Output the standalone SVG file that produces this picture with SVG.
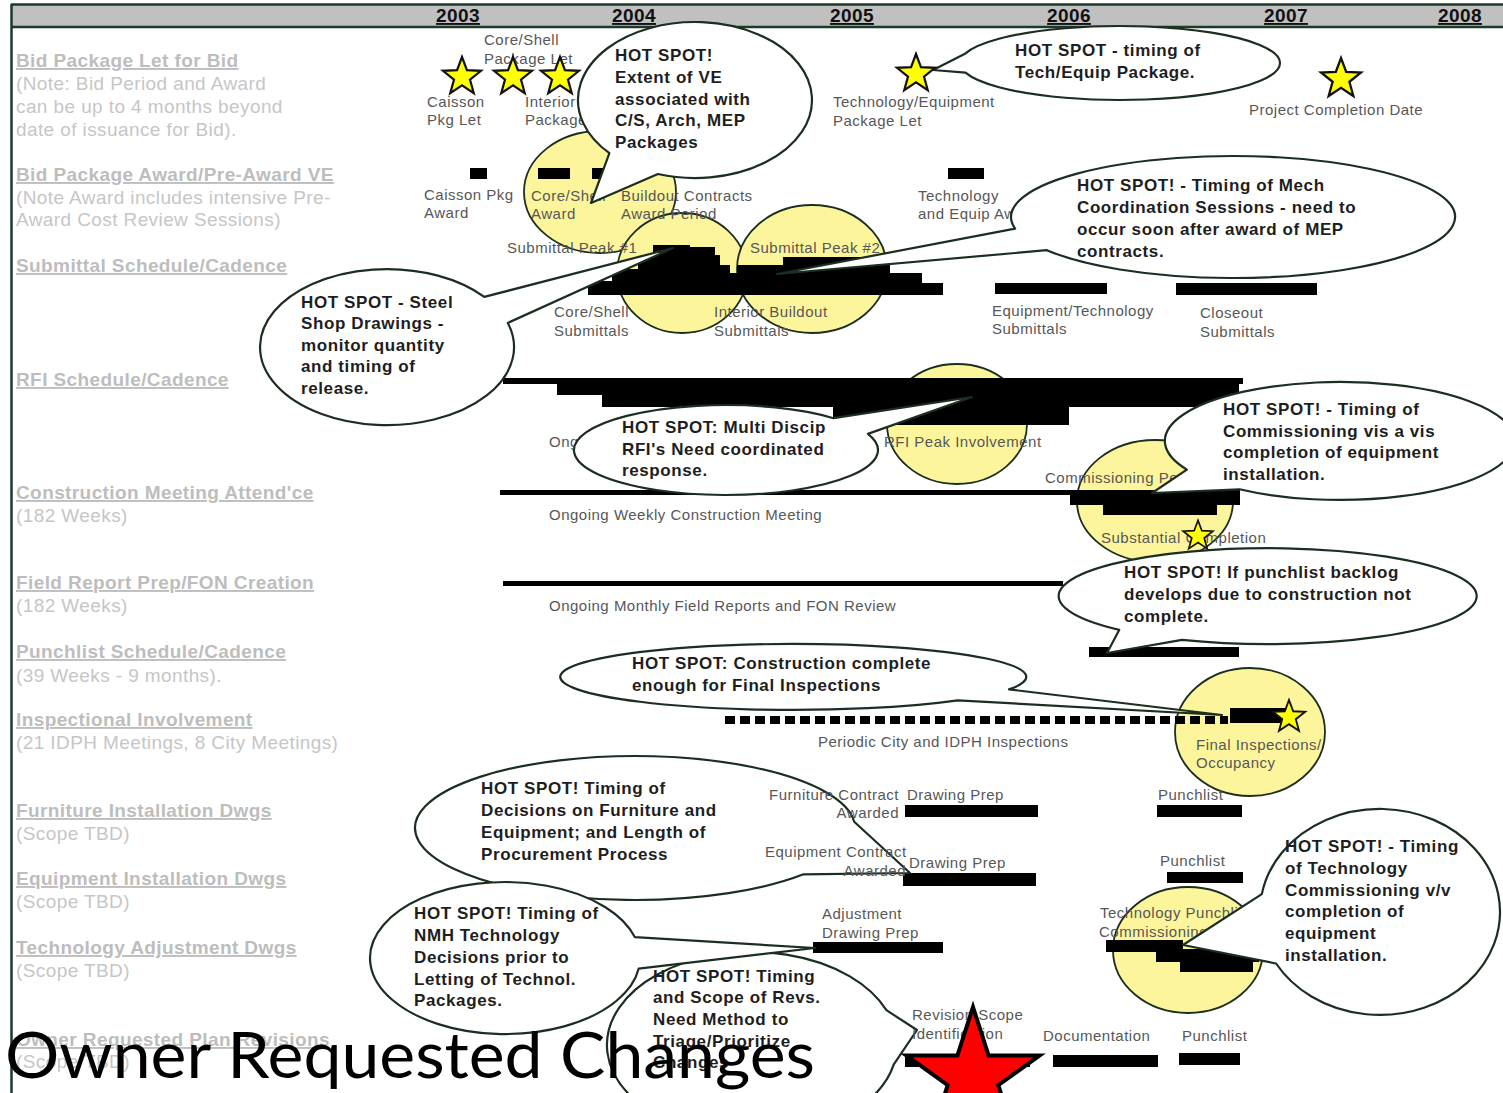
<svg xmlns="http://www.w3.org/2000/svg" xmlns:xlink="http://www.w3.org/1999/xlink" width="1503" height="1093" viewBox="0 0 1503 1093">
<style>
.yr{font:bold 19px "Liberation Sans",Arial,sans-serif;letter-spacing:0.4px;fill:#111;text-anchor:middle;text-decoration:underline}
.lt{font:bold 19px "Liberation Sans",Arial,sans-serif;letter-spacing:0.4px;fill:#bdbdbd;text-decoration:underline}
.ls{font:19px "Liberation Sans",Arial,sans-serif;letter-spacing:0.4px;fill:#c6c6c6}
.sm{font:15px "Liberation Sans",Arial,sans-serif;letter-spacing:0.5px;fill:#575757}
.smr{font:15px "Liberation Sans",Arial,sans-serif;letter-spacing:0.5px;fill:#575757;text-anchor:end}
.ht{font:bold 17px "Liberation Sans",Arial,sans-serif;letter-spacing:0.6px;fill:#1e1e1e}
.co{fill:#fff;stroke:#1b2e1f;stroke-width:2.2;stroke-linejoin:round}
.yc{fill:#fcf59c;stroke:#1b2e1f;stroke-width:1.8}
.bar{fill:#000}
.ys{fill:#ffff00;stroke:#111;stroke-width:2.2;vector-effect:non-scaling-stroke}
.rs{fill:#ff0000;stroke:#000;stroke-width:4;stroke-linejoin:miter}
.big{font:63px Lato,"Open Sans",sans-serif;fill:#000}
</style>
<defs>
<polygon id="star" points="0,-20 4.94,-6.8 19.02,-6.18 7.99,2.6 11.76,16.18 0,8.4 -11.76,16.18 -7.99,2.6 -19.02,-6.18 -4.94,-6.8"/>
</defs>
<rect width="1503" height="1093" fill="#fff"/>
<g id="header">
<rect x="11" y="4" width="1500" height="23" fill="#c0c0c0"/>
<line x1="11" y1="4.5" x2="1503" y2="4.5" stroke="#1b3a2a" stroke-width="2.5"/>
<line x1="11" y1="27" x2="1503" y2="27" stroke="#1b3a2a" stroke-width="2.5"/>
<line x1="11.5" y1="4" x2="11.5" y2="1093" stroke="#1b3a2a" stroke-width="2.5"/>
<text class="yr" x="458" y="22">2003</text>
<text class="yr" x="634" y="22">2004</text>
<text class="yr" x="852" y="22">2005</text>
<text class="yr" x="1069" y="22">2006</text>
<text class="yr" x="1286" y="22">2007</text>
<text class="yr" x="1460" y="22">2008</text>
</g>
<g id="row-labels">
<text class="lt" x="16" y="67">Bid Package Let for Bid</text>
<text class="ls" x="16" y="90">(Note: Bid Period and Award</text>
<text class="ls" x="16" y="113">can be up to 4 months beyond</text>
<text class="ls" x="16" y="136">date of issuance for Bid).</text>
<text class="lt" x="16" y="181">Bid Package Award/Pre-Award VE</text>
<text class="ls" x="16" y="204">(Note Award includes intensive Pre-</text>
<text class="ls" x="16" y="226">Award Cost Review Sessions)</text>
<text class="lt" x="16" y="272">Submittal Schedule/Cadence</text>
<text class="lt" x="16" y="386">RFI Schedule/Cadence</text>
<text class="lt" x="16" y="499">Construction Meeting Attend'ce</text>
<text class="ls" x="16" y="522">(182 Weeks)</text>
<text class="lt" x="16" y="589">Field Report Prep/FON Creation</text>
<text class="ls" x="16" y="612">(182 Weeks)</text>
<text class="lt" x="16" y="658">Punchlist Schedule/Cadence</text>
<text class="ls" x="16" y="682">(39 Weeks - 9 months).</text>
<text class="lt" x="16" y="726">Inspectional Involvement</text>
<text class="ls" x="16" y="749">(21 IDPH Meetings, 8 City Meetings)</text>
<text class="lt" x="16" y="817">Furniture Installation Dwgs</text>
<text class="ls" x="16" y="840">(Scope TBD)</text>
<text class="lt" x="16" y="885">Equipment Installation Dwgs</text>
<text class="ls" x="16" y="908">(Scope TBD)</text>
<text class="lt" x="16" y="954">Technology Adjustment Dwgs</text>
<text class="ls" x="16" y="977">(Scope TBD)</text>
<text class="lt" x="16" y="1046">Owner Requested Plan Revisions</text>
<text class="ls" x="16" y="1068">(Scope TBD)</text>
</g>
<g id="highlights">
<ellipse class="yc" cx="600" cy="192" rx="76" ry="61"/>
<ellipse class="yc" cx="682" cy="273" rx="65" ry="60"/>
<ellipse class="yc" cx="812" cy="269" rx="75" ry="64"/>
<ellipse class="yc" cx="957" cy="424" rx="70" ry="60"/>
<ellipse class="yc" cx="1155" cy="501" rx="78" ry="61"/>
<ellipse class="yc" cx="1250" cy="732" rx="75" ry="64"/>
<ellipse class="yc" cx="1188" cy="950" rx="75" ry="63"/>
</g>
<g id="bars">
<rect class="bar" x="470" y="168" width="17" height="11"/>
<rect class="bar" x="538" y="168" width="32" height="11"/>
<rect class="bar" x="592" y="168" width="30" height="11"/>
<rect class="bar" x="948" y="168" width="36" height="11"/>
<polygon class="bar" points="588,295 588,281 612,281 612,269 638,269 638,256 653,256 653,245 690,245 690,247 715,247 715,255 720,255 720,265 730,265 730,273 737,273 737,265 783,265 783,257 890,257 890,273 922,273 922,283 943,283 943,295"/>
<rect class="bar" x="995" y="283" width="112" height="11"/>
<rect class="bar" x="1176" y="283" width="141" height="12"/>
<rect class="bar" x="503" y="378" width="740" height="6"/>
<rect class="bar" x="557" y="383" width="682" height="12"/>
<rect class="bar" x="602" y="393" width="632" height="14"/>
<rect class="bar" x="833" y="405" width="236" height="20"/>
<rect class="bar" x="500" y="490" width="575" height="5"/>
<rect class="bar" x="1070" y="490" width="170" height="15"/>
<rect class="bar" x="1103" y="503" width="114" height="12"/>
<rect class="bar" x="503" y="581" width="560" height="5"/>
<rect class="bar" x="1089" y="647" width="150" height="10"/>
<line x1="725" y1="720" x2="1228" y2="720" stroke="#000" stroke-width="8" stroke-dasharray="10 5"/>
<rect class="bar" x="1230" y="708" width="59" height="15"/>
<rect class="bar" x="905" y="805" width="133" height="12"/>
<rect class="bar" x="1157" y="805" width="85" height="12"/>
<rect class="bar" x="903" y="873" width="133" height="13"/>
<rect class="bar" x="1167" y="872" width="76" height="11"/>
<rect class="bar" x="813" y="942" width="130" height="11"/>
<rect class="bar" x="1106" y="940" width="77" height="12"/>
<rect class="bar" x="1156" y="949" width="103" height="13"/>
<rect class="bar" x="1180" y="960" width="73" height="12"/>
<rect class="bar" x="905" y="1055" width="125" height="12"/>
<rect class="bar" x="1053" y="1055" width="105" height="12"/>
<rect class="bar" x="1179" y="1053" width="61" height="12"/>
</g>
<g id="hidden-labels">
<text class="sm" x="525" y="107">Interior</text>
<text class="sm" x="525" y="125">Package Let</text>
<text class="sm" x="531" y="201">Core/Shell</text>
<text class="sm" x="531" y="219">Award</text>
<text class="sm" x="918" y="201">Technology</text>
<text class="sm" x="918" y="219">and Equip Award</text>
<text class="sm" x="549" y="447">Ongoing</text>
<text class="sm" x="1045" y="483">Commissioning Period</text>
<text class="sm" x="1100" y="918">Technology Punchlist</text>
<text class="sm" x="1099" y="937">Commissioning</text>
</g>
<g id="connectors">
<path id="c-ve" class="co" d="M657.9,174 A117,78 0 1 0 609.4,153.2 L591,203 Z"/>
<path id="c-tech" class="co" d="M965.5,72.6 A160,37 0 1 0 965.5,53.4 L933,70 Z"/>
<path id="c-mech" class="co" d="M1046.8,250.2 A222,61 0 1 0 1015.1,228.6 L777,274 Z"/>
<path id="c-steel" class="co" d="M484.3,296.9 A127,78 0 1 0 507.8,322.9 L673,248 Z"/>
<path id="c-rfi" class="co" d="M833.5,418.2 A152,45 0 1 0 867.9,433.9 L972,397 Z"/>
<path id="c-comm" class="co" d="M1239.6,489.3 A175,59 0 1 0 1186.9,469.6 L1152,493 Z"/>
<path id="c-punch" class="co" d="M1182,639.9 A209,48 0 1 0 1119.2,629.9 L1107,653 Z"/>
<path id="c-final" class="co" d="M1009,689.4 A233,33 0 1 0 957.8,700.3 L1222,715 Z"/>
<path id="c-furn" class="co" d="M854.2,821.7 A220,72 0 1 0 803.5,874.3 L910,873 Z"/>
<path id="c-revs" class="co" d="M886.4,1010.2 A145,93 0 1 0 893.8,1064.3 L917,1030 Z"/>
<path id="c-nmh" class="co" d="M634.8,937.1 A135,76 0 1 0 638.7,968.6 L815,948 Z"/>
<path id="c-techcomm" class="co" d="M1276.1,963.5 A120,103 0 1 0 1261.8,894.1 L1183,945 Z"/>
</g>
<g id="callout-texts">
<g id="t-ve"><text class="ht" x="615" y="61">HOT SPOT!</text><text class="ht" x="615" y="83">Extent of VE</text><text class="ht" x="615" y="105">associated with</text><text class="ht" x="615" y="126">C/S, Arch, MEP</text><text class="ht" x="615" y="148">Packages</text></g>
<g id="t-tech"><text class="ht" x="1015" y="56">HOT SPOT - timing of</text><text class="ht" x="1015" y="78">Tech/Equip Package.</text></g>
<g id="t-mech"><text class="ht" x="1077" y="191">HOT SPOT! - Timing of Mech</text><text class="ht" x="1077" y="213">Coordination Sessions - need to</text><text class="ht" x="1077" y="235">occur soon after award of MEP</text><text class="ht" x="1077" y="257">contracts.</text></g>
<g id="t-steel"><text class="ht" x="301" y="308">HOT SPOT - Steel</text><text class="ht" x="301" y="329">Shop Drawings -</text><text class="ht" x="301" y="351">monitor quantity</text><text class="ht" x="301" y="372">and timing of</text><text class="ht" x="301" y="394">release.</text></g>
<g id="t-rfi"><text class="ht" x="622" y="433">HOT SPOT: Multi Discip</text><text class="ht" x="622" y="455">RFI's Need coordinated</text><text class="ht" x="622" y="476">response.</text></g>
<g id="t-comm"><text class="ht" x="1223" y="415">HOT SPOT! - Timing of</text><text class="ht" x="1223" y="437">Commissioning vis a vis</text><text class="ht" x="1223" y="458">completion of equipment</text><text class="ht" x="1223" y="480">installation.</text></g>
<g id="t-punch"><text class="ht" x="1124" y="578">HOT SPOT! If punchlist backlog</text><text class="ht" x="1124" y="600">develops due to construction not</text><text class="ht" x="1124" y="622">complete.</text></g>
<g id="t-final"><text class="ht" x="632" y="669">HOT SPOT: Construction complete</text><text class="ht" x="632" y="691">enough for Final Inspections</text></g>
<g id="t-furn"><text class="ht" x="481" y="794">HOT SPOT! Timing of</text><text class="ht" x="481" y="816">Decisions on Furniture and</text><text class="ht" x="481" y="838">Equipment; and Length of</text><text class="ht" x="481" y="860">Procurement Process</text></g>
<g id="t-nmh"><text class="ht" x="414" y="919">HOT SPOT! Timing of</text><text class="ht" x="414" y="941">NMH Technology</text><text class="ht" x="414" y="963">Decisions prior to</text><text class="ht" x="414" y="985">Letting of Technol.</text><text class="ht" x="414" y="1006">Packages.</text></g>
<g id="t-revs"><text class="ht" x="653" y="982">HOT SPOT! Timing</text><text class="ht" x="653" y="1003">and Scope of Revs.</text><text class="ht" x="653" y="1025">Need Method to</text><text class="ht" x="653" y="1047">Triage/Prioritize</text><text class="ht" x="653" y="1068">Changes</text></g>
<g id="t-techcomm"><text class="ht" x="1285" y="852">HOT SPOT! - Timing</text><text class="ht" x="1285" y="874">of Technology</text><text class="ht" x="1285" y="896">Commissioning v/v</text><text class="ht" x="1285" y="917">completion of</text><text class="ht" x="1285" y="939">equipment</text><text class="ht" x="1285" y="961">installation.</text></g>
</g>
<g id="labels">
<text class="sm" x="484" y="45">Core/Shell</text>
<text class="sm" x="484" y="64">Package Let</text>
<text class="sm" x="427" y="107">Caisson</text>
<text class="sm" x="427" y="125">Pkg Let</text>
<text class="sm" x="833" y="107">Technology/Equipment</text>
<text class="sm" x="833" y="126">Package Let</text>
<text class="sm" x="1249" y="115">Project Completion Date</text>
<text class="sm" x="424" y="200">Caisson Pkg</text>
<text class="sm" x="424" y="218">Award</text>
<text class="sm" x="621" y="201">Buildout Contracts</text>
<text class="sm" x="621" y="219">Award Period</text>
<text class="sm" x="507" y="253">Submittal Peak #1</text>
<text class="sm" x="750" y="253">Submittal Peak #2</text>
<text class="sm" x="554" y="317">Core/Shell</text>
<text class="sm" x="554" y="336">Submittals</text>
<text class="sm" x="714" y="317">Interior Buildout</text>
<text class="sm" x="714" y="336">Submittals</text>
<text class="sm" x="992" y="316">Equipment/Technology</text>
<text class="sm" x="992" y="334">Submittals</text>
<text class="sm" x="1200" y="318">Closeout</text>
<text class="sm" x="1200" y="337">Submittals</text>
<text class="sm" x="884" y="447">RFI Peak Involvement</text>
<text class="sm" x="549" y="520">Ongoing Weekly Construction Meeting</text>
<text class="sm" x="1101" y="543">Substantial Completion</text>
<text class="sm" x="549" y="611">Ongoing Monthly Field Reports and FON Review</text>
<text class="sm" x="818" y="747">Periodic City and IDPH Inspections</text>
<text class="sm" x="1196" y="750">Final Inspections/</text>
<text class="sm" x="1196" y="768">Occupancy</text>
<text class="smr" x="899" y="800">Furniture Contract</text>
<text class="smr" x="899" y="818">Awarded</text>
<text class="sm" x="907" y="800">Drawing Prep</text>
<text class="sm" x="1158" y="800">Punchlist</text>
<text class="sm" x="765" y="857">Equipment Contract</text>
<text class="smr" x="906" y="876">Awarded</text>
<text class="sm" x="909" y="868">Drawing Prep</text>
<text class="sm" x="1160" y="866">Punchlist</text>
<text class="sm" x="822" y="919">Adjustment</text>
<text class="sm" x="822" y="938">Drawing Prep</text>
<text class="sm" x="912" y="1020">Revision Scope</text>
<text class="sm" x="912" y="1039">Identification</text>
<text class="sm" x="1043" y="1041">Documentation</text>
<text class="sm" x="1182" y="1041">Punchlist</text>
</g>
<g id="milestones">
<use xlink:href="#star" class="ys" transform="translate(462,77)"/>
<use xlink:href="#star" class="ys" transform="translate(513,77)"/>
<use xlink:href="#star" class="ys" transform="translate(560,77)"/>
<use xlink:href="#star" class="ys" transform="translate(916,74)"/>
<use xlink:href="#star" class="ys" transform="translate(1341,79) scale(1.05)"/>
<use xlink:href="#star" class="ys" transform="translate(1198,536) scale(0.78)"/>
<use xlink:href="#star" class="ys" transform="translate(1289,717) scale(0.85)"/>
<polygon id="red-star" class="rs" points="973,1007 988.6,1055.5 1039.6,1055.4 998.3,1085.2 1014.1,1133.6 973,1103.6 931.9,1133.6 947.7,1085.2 906.4,1055.4 957.4,1055.5"/>
</g>
<text id="title" class="big" x="5" y="1078" textLength="810" lengthAdjust="spacingAndGlyphs">Owner Requested Changes</text>
</svg>
